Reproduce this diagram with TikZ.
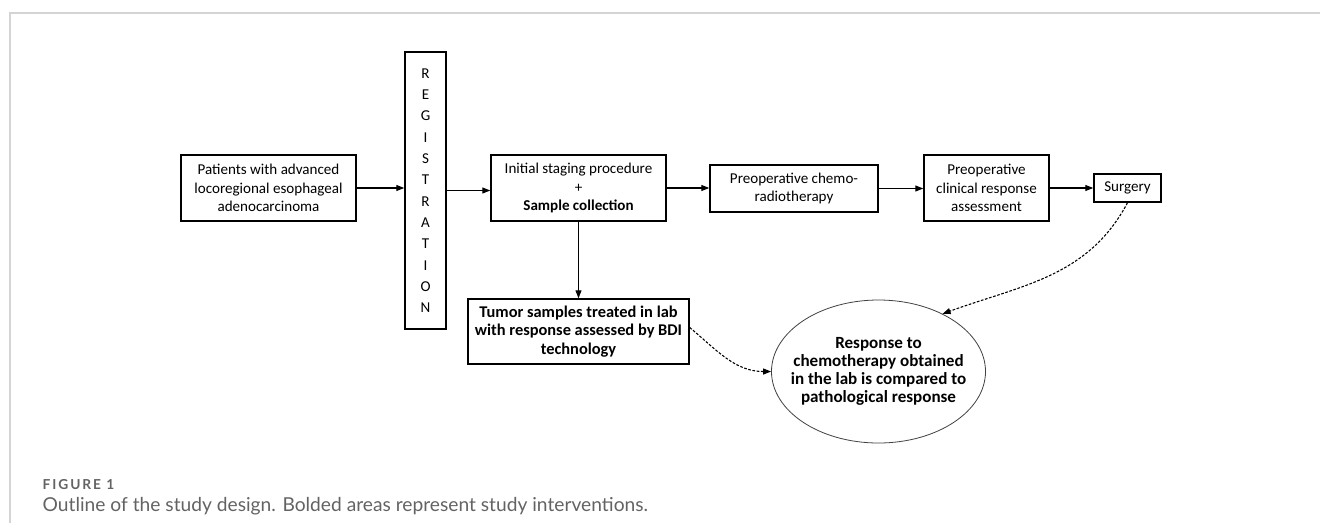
\documentclass[tikz,border=0pt]{standalone}
\usepackage{fontspec}
\setmainfont{Carlito}
\newfontfamily\capfont{Lato}
\newfontfamily\figfont[LetterSpace=14]{Lato}
\usepackage{xcolor}
\usepackage{tikz}
\usetikzlibrary{arrows.meta,shapes.geometric}

\definecolor{framegrey}{HTML}{D4D4D4}
\definecolor{capgrey}{HTML}{636363}

\tikzset{
    stagebox/.style={draw, line width=1.1pt, align=center, inner sep=1pt,
        font=\fontsize{11.3}{13.7}\selectfont},
    labbox/.style={stagebox, font=\bfseries\fontsize{12.3}{13.6}\selectfont},
    flow/.style={-{Triangle[length=6pt,width=4.5pt]}, line width=0.9pt},
    dashflow/.style={-{Triangle[length=6pt,width=4.5pt]}, line width=0.8pt,
        dash pattern=on 2pt off 1.2pt}
}

\begin{document}
\begin{tikzpicture}[x=0.75pt,y=-0.75pt]
    \useasboundingbox (0,0) rectangle (1320,526);
    % Frame of the figure
    \draw[framegrey, line width=1.5pt] (1320,13) -- (10,13) -- (10,523);

    % Main line of the study
    \node[stagebox, minimum width=131.25pt, minimum height=49.5pt] (pat) at (268.5,188)
        {Patients with advanced\\locoregional esophageal\\adenocarcinoma};
    \node[stagebox, minimum width=30.75pt, minimum height=207.75pt] (reg) at (425.5,190.5)
        {R\\[2.3pt]E\\[2.3pt]G\\[2.3pt]I\\[2.3pt]S\\[2.3pt]T\\[2.3pt]R\\[2.3pt]A\\[2.3pt]T\\[2.3pt]I\\[2.3pt]O\\[2.3pt]N};
    \node[stagebox, minimum width=131.25pt, minimum height=49.5pt] (init) at (578.5,188)
        {Initial staging procedure\\+\\\textbf{Sample collection}};
    \node[stagebox, minimum width=126pt, minimum height=35.25pt] (chemo) at (794,188.5)
        {Preoperative chemo-\\radiotherapy};
    \node[stagebox, minimum width=93.75pt, minimum height=49.5pt] (clin) at (986.5,188)
        {Preoperative\\clinical response\\assessment};
    \node[stagebox, minimum width=50.25pt, minimum height=21pt] (surg) at (1127.5,188)
        {Surgery};

    % Lab branch
    \node[labbox, minimum width=165.75pt, minimum height=48.75pt] (tumor) at (578.5,331.5)
        {Tumor samples treated in lab\\with response assessed by BDI\\technology};
    \node[labbox, ellipse, draw=black!75, line width=0.6pt, inner xsep=-9pt, inner ysep=0pt,
        minimum width=152.25pt, minimum height=107.25pt,
        font=\bfseries\fontsize{12.8}{13.6}\selectfont] (resp) at (878.5,371.5)
        {Response to\\chemotherapy obtained\\in the lab is compared to\\pathological response};

    % Arrows
    \foreach \a/\b in {pat/reg, reg/init, init/chemo, chemo/clin, clin/surg} {
        \draw[flow] (\a.east) -- (\a.east -| \b.west);
    }
    \draw[flow] (init.south) -- (tumor.north);
    \draw[dashflow] (tumor.east) ++(0,-4) to[out=-40, in=180] (resp.west);
    \draw[dashflow] (surg.south) to[out=-118, in=20] (resp.42);

    % Caption
    \node[anchor=west, text=capgrey, font=\figfont\bfseries\fontsize{10.3}{12}\selectfont] (fig) at (38,485) {FIGURE 1};
    \node[anchor=west, text=capgrey, font=\capfont\fontsize{14.4}{16}\selectfont] (cap) at (38,506)
        {Outline of the study design. Bolded areas represent study interventions.};
\end{tikzpicture}
\end{document}
